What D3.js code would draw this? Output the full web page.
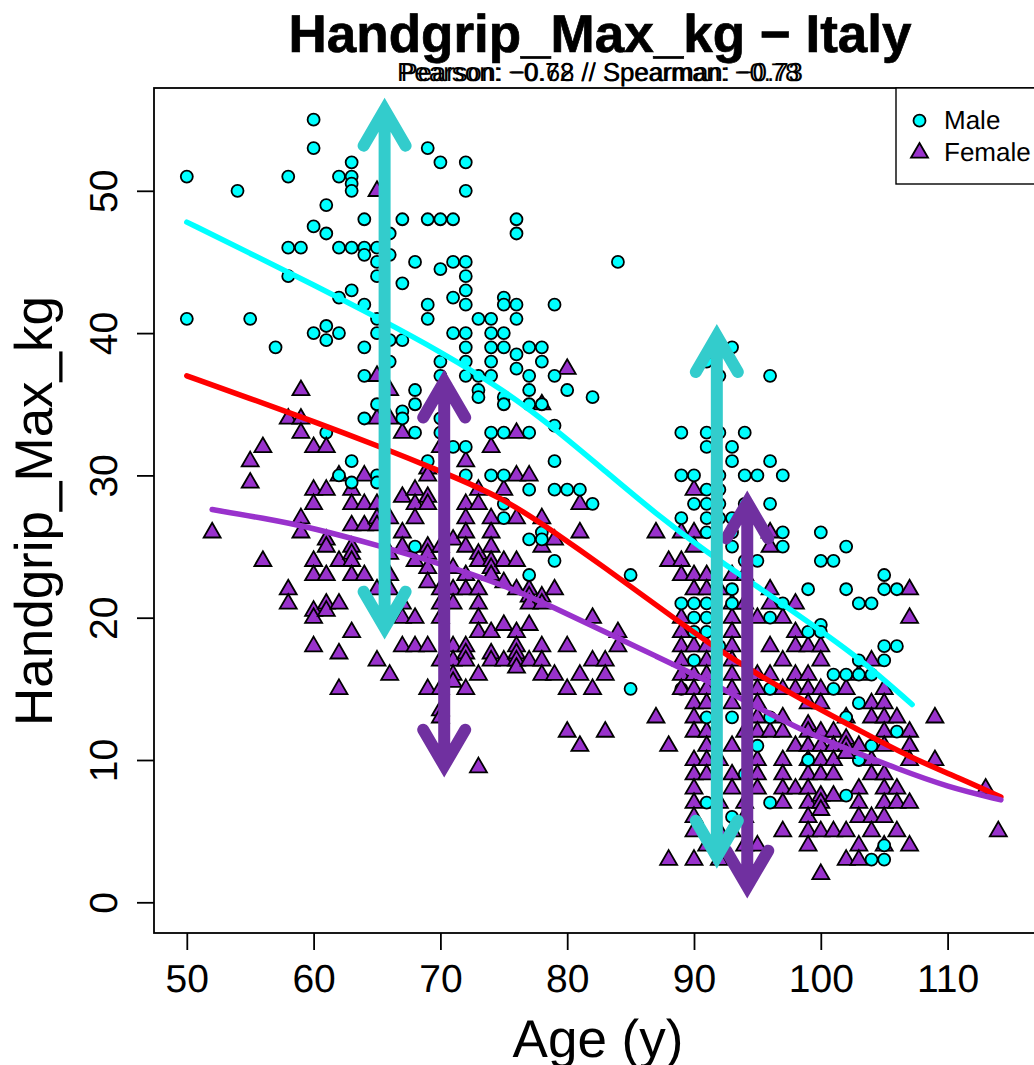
<!DOCTYPE html>
<html>
<head>
<meta charset="utf-8">
<script src="https://cdn.jsdelivr.net/npm/d3@7"></script>
<style>
  html, body { margin: 0; padding: 0; background: #fff; overflow: hidden; }
  text { font-family: "Liberation Sans", Arial, sans-serif; fill: #000; text-rendering: geometricPrecision; }
</style>
</head>
<body>
<svg id="chart" width="1034" height="1065"></svg>
<script>
// [age, [grip values]]
let maleByAge = [
  [50,[51,41]],[54,[50]],[55,[41]],[57,[39]],[58,[51,46,44]],[59,[46]],
  [60,[55,53,47.5,40]],[61,[49,47,40.5,39.5]],[62,[51,46,42.5,40,30]],
  [63,[52,51,50.5,50,46,43,31,29.5]],[64,[48,46,45.5,42,39,37,34]],
  [65,[46,45,44,41,40,35,30,29.5]],[66,[47,45.5,39.5,38]],[67,[48,43.5,39.5,34.5,34]],
  [68,[45,36,35,33,25]],[69,[53,48,42,41,31]],[70,[52,48,44.5,38,37,34,33]],
  [71,[48,45,42.5,40,32]],[72,[52,50,45,44,43,42,40,39,38,37,32,30]],
  [73,[41,37,36,35.5]],[74,[41,40,39,38,37,33,30]],[75,[42.5,42,40,39,35.5,35,33,30]],
  [76,[48,47,42,41,38.5,37.5]],[77,[39,37,36,35,33,29,25.5,23]],[78,[39,38,35,25.5]],
  [79,[42,37,33.5,31,29,24]],[80,[36,29]],[81,[29]],[82,[35.5,28]],[84,[45]],[85,[23,15]],
  [89,[33,30,27,21]],[90,[30,28,21,20,19,17]],[91,[38,33,32,29,28,27,26,21,20,19,13,7]],
  [92,[37,33,30,29,28,27,18]],[93,[39,32,31,27,26,25,22,21,13,6]],[94,[33,30,28,24,9]],
  [95,[30,24,11]],[96,[37,31,28,20,15,13,7]],[97,[30,26,25,21]],[99,[22,19,10]],
  [100,[26,24,19.5,19]],[101,[24,16,15]],[102,[25,22,16,13,7.5]],[103,[21,17,16,14]],
  [104,[21,16,11,3]],[105,[23,22,18,17,4,3]],[106,[22,18,12]]
];
// these few males sit underneath the triangles
let maleUnderByAge = [[61,[33]],[75,[28,27]],[78,[26]],[89,[15]],[103,[10]]];

let femaleByAge = [
  [52,[26]],[55,[31,29.5]],[56,[32,24]],[58,[34,22,21]],[59,[36,34,33,27,26]],
  [60,[32,29,28,24,23,20.5,20,18]],[61,[32,29,25.5,25,23,21,20.5]],[62,[30,24,21,17.5,15]],
  [63,[29,28,26.5,25,24.5,24,23,19]],[64,[30,28,26.5,23]],[65,[50,37,34,28,27,26.5,22,17]],
  [66,[36,34,27,24.5,23,22,16]],[67,[33,28.5,26,25,21,20,18]],[68,[29,28,27,24,20,18]],
  [69,[30.5,30,28.5,28,25,24.5,23.5,22.5,18,15]],[70,[32,25,22,21,20,17,15,13.5,13]],
  [71,[25.5,23.5,22,21,18,17,16,15.5]],[72,[31,28,27,26,25,23,22,18,17.5,17,15]],
  [73,[29,28,24.5,24,22,21,20,19,16,9.5]],[74,[32,27,26,25,24,23.5,23,19,17.5,17]],
  [75,[29,24,22.5,19.5,17]],[76,[33,30,27,24,22,19,18,17.5,17,16.5]],
  [77,[30,22,21.5,21,19.5,17]],[78,[35,27,25,21.5,21,18,17,16]],[79,[25.5,22,16]],
  [80,[37.5,18,15,12]],[81,[28,26,16,11]],[82,[20,17,15]],[83,[17,16,12]],[84,[19,18]],
  [87,[26,13]],[88,[24,11,3]],[89,[26,24,23,20,19,18,17,16,15]],
  [90,[29,26,25,23,22,18,16,15,14,13,12,10,9,8,7,6,5,3]],
  [91,[23,22,18,17,16,15,14,12,11,10,9,4]],[92,[22,10,7,5,3]],
  [93,[23,21,20,19,18,17,16,15,14,11,9,8,5]],[94,[23,21,12,7,6,4]],
  [95,[20,16,15,14,13,12,10,9,8,4]],[96,[26,25,22,21,18,16,12]],
  [97,[20,17,15,13,12,10,9,8,7,5]],[98,[21,19,18,16,15,11,8]],
  [99,[18,16,15,14,12.5,12,11,10,9,8,7,6,5,4]],
  [100,[18,17,15,14,12,11,10,9,7.5,7,6.5,5,2]],[101,[12,11,10,9,7.5,5]],
  [102,[15,13,11.5,11,10.5,5,3]],[103,[16,11,8,7,6,4,3]],[104,[17,14,13,10,9,6,5]],
  [105,[15,14,13,12,11,9,8,7,6,4]],[106,[13,8,7,5]],[107,[22,20,12,11,10,7,4]],
  [109,[13,10]],[113,[8]],[114,[5]]
];

// smoothers
let cyanLine = [[50,47.8],[55,45.6],[60,43.4],[65,41.1],[70,38.7],[75,36],[79,33.3],[83,30.3],[87,27.3],[91,24.6],[95,22.2],[99,19.7],[103,17.2],[107.2,13.9]];
let redLine = [[50,37],[55,35.4],[60,33.8],[65,32.1],[70,30.3],[75,28.4],[79,26],[83,23.5],[87,20.9],[91,18.3],[95,16],[99,14],[103,12.1],[107,10.2],[111,8.7],[114.2,7.4]];
let purpleLine = [[52,27.6],[56,27],[60,26.3],[65,25.1],[70,23.8],[75,22.3],[79,20.7],[83,19],[87,17.3],[91,15.6],[95,13.7],[98.5,12.1],[102,10.8],[106,9.4],[110,8.1],[114.2,7.2]];

// arrows: [age, top, bottom]
let purpleArrows = [[70.3,36.6,9.6],[94.2,28.1,1.1]];
let tealArrows = [[65.6,55.7,19.3],[91.8,39.8,3.2]];

let xTicks = [50,60,70,80,90,100,110];
let yTicks = [0,10,20,30,40,50];

let cCyan = "#00ffff", cOrchid = "#9932cc", cTeal = "#33cccc", cPurple = "#7030a0";

let svg = d3.select("#chart");

let x = d3.scaleLinear().domain([50,110]).range([186.8,947.6]);
let y = d3.scaleLinear().domain([0,50]).range([902.3,190.8]);

let flat = rows => rows.flatMap(r => r[1].map(v => [r[0], v]));

let trianglePath = "M0,-9.5L8.5,5.2L-8.5,5.2Z";

let drawCircles = (sel, data) => sel.selectAll(null).data(data).join("circle")
  .attr("cx", d => x(d[0])).attr("cy", d => y(d[1])).attr("r", 6)
  .attr("fill", cCyan).attr("stroke", "#000").attr("stroke-width", 1.8);

let chart = svg.append("g");
drawCircles(chart.append("g"), flat(maleUnderByAge));
chart.append("g").selectAll("path").data(flat(femaleByAge)).join("path")
  .attr("d", trianglePath)
  .attr("transform", d => `translate(${x(d[0])},${y(d[1])})`)
  .attr("fill", cOrchid).attr("stroke", "#000").attr("stroke-width", 1.8)
  .attr("stroke-linejoin", "miter");
drawCircles(chart.append("g"), flat(maleByAge));

let line = d3.line().x(d => x(d[0])).y(d => y(d[1])).curve(d3.curveBasis);
[[cyanLine, cCyan],[redLine, "#ff0000"],[purpleLine, cOrchid]].forEach(l => {
  chart.append("path").attr("d", line(l[0])).attr("fill", "none")
    .attr("stroke", l[1]).attr("stroke-width", 5.5).attr("stroke-linecap", "round");
});

// double headed arrows, head size is in pixels like R's arrows()
let arrowPath = d => {
  let ax = x(d[0]), t = y(d[1]), b = y(d[2]);
  return `M${ax},${b}L${ax},${t}M${ax-21},${t+36}L${ax},${t}L${ax+21},${t+36}` +
         `M${ax-21},${b-36}L${ax},${b}L${ax+21},${b-36}`;
};
[[purpleArrows, cPurple],[tealArrows, cTeal]].forEach(a => {
  chart.append("g").selectAll("path").data(a[0]).join("path")
    .attr("d", arrowPath).attr("fill", "none").attr("stroke", a[1])
    .attr("stroke-width", 12).attr("stroke-linecap", "round")
    .attr("stroke-linejoin", "miter").attr("stroke-miterlimit", 10);
});

// box
svg.append("rect").attr("x", 154).attr("y", 88).attr("width", 892).attr("height", 845)
  .attr("fill", "none").attr("stroke", "#000").attr("stroke-width", 1.8);

// axes
let xAxis = svg.append("g").attr("transform", "translate(0,933)")
  .call(d3.axisBottom(x).tickValues(xTicks).tickSize(17).tickFormat(d3.format("d")));
let yAxis = svg.append("g").attr("transform", "translate(154,0)")
  .call(d3.axisLeft(y).tickValues(yTicks).tickSize(17).tickFormat(d3.format("d")));
[xAxis, yAxis].forEach(a => {
  a.select(".domain").remove();
  a.selectAll("line").attr("stroke", "#000").attr("stroke-width", 1.8);
  a.selectAll("text").style("font-size", "39px").attr("fill", "#000");
});
xAxis.selectAll("text").attr("y", 59).attr("dy", 0).attr("text-anchor", "middle");
yAxis.selectAll("text")
  .attr("x", 0).attr("y", 0).attr("dy", 0).attr("text-anchor", "middle")
  .attr("transform", "translate(-37,0) rotate(-90)");

// titles
svg.append("text").attr("x", 600).attr("y", 52).attr("text-anchor", "middle")
  .style("font-size", "53px").style("font-weight", "bold")
  .style("stroke", "#000").style("stroke-width", 0.7).text("Handgrip_Max_kg − Italy");
svg.append("text").attr("x", 600).attr("y", 81).attr("text-anchor", "middle")
  .style("font-size", "26px").text("Pearson: −0.72 // Spearman: −0.73");
svg.append("text").attr("x", 600).attr("y", 81).attr("text-anchor", "middle")
  .style("font-size", "25.5px").text("Pearson: −0.68 // Spearman: −0.78");
svg.append("text").attr("x", 598).attr("y", 1057).attr("text-anchor", "middle")
  .style("font-size", "53px").text("Age (y)");
svg.append("text").attr("transform", "translate(52,511) rotate(-90)").attr("text-anchor", "middle")
  .style("font-size", "53px").text("Handgrip_Max_kg");

// legend
let legend = svg.append("g");
legend.append("rect").attr("x", 896).attr("y", 88).attr("width", 150).attr("height", 96)
  .attr("fill", "#fff").attr("stroke", "#000").attr("stroke-width", 1.4);
legend.append("circle").attr("cx", 919.5).attr("cy", 120.7).attr("r", 6)
  .attr("fill", cCyan).attr("stroke", "#000").attr("stroke-width", 1.8);
legend.append("path").attr("d", trianglePath).attr("transform", "translate(919.5,152.5)")
  .attr("fill", cOrchid).attr("stroke", "#000").attr("stroke-width", 1.8);
legend.append("text").attr("x", 944).attr("y", 129).style("font-size", "26px").text("Male");
legend.append("text").attr("x", 944).attr("y", 161).style("font-size", "26px").text("Female");
</script>
</body>
</html>
